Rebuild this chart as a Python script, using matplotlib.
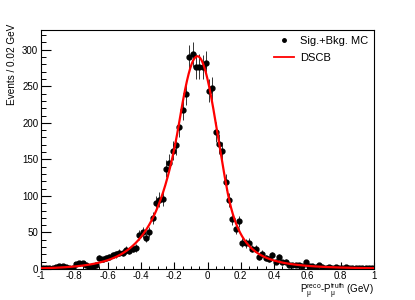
import numpy as np
import matplotlib
matplotlib.use("Agg")
import matplotlib.pyplot as plt
from matplotlib.ticker import MultipleLocator, FixedLocator
from matplotlib.lines import Line2D

plt.rcParams['font.family'] = ['Liberation Sans', 'DejaVu Sans']
plt.rcParams['mathtext.fontset'] = 'custom'
plt.rcParams['mathtext.rm'] = 'Liberation Sans'
plt.rcParams['mathtext.it'] = 'Liberation Sans'

bin_centers = np.round(np.arange(-0.99, 1.0, 0.02), 2)
counts = [1, 1, 2, 2, 3, 4, 4, 3, 2, 2,
          7, 8, 8, 5, 3, 3, 5, 15, 13, 15,
          17, 19, 20, 22, 22, 26, 25, 28, 29, 47,
          50, 43, 51, 70, 90, 95, 96, 137, 145, 162,
          169, 194, 218, 240, 290, 294, 277, 277, 276, 282,
          244, 247, 187, 171, 161, 119, 94, 68, 55, 65,
          36, 35, 36, 28, 28, 17, 21, 15, 13, 19,
          10, 16, 9, 10, 6, 5, 6, 5, 4, 9,
          4, 4, 3, 5, 3, 2, 3, 2, 3, 2,
          1, 3, 2, 2, 1, 2, 1, 1, 1, 1]
x_tick_values = [-1, -0.8, -0.6, -0.4, -0.2, 0, 0.2, 0.4, 0.6, 0.8, 1]
x_tick_labels = ["-1", "-0.8", "-0.6", "-0.4", "-0.2", "0", "0.2", "0.4", "0.6", "0.8", "1"]
y_tick_values = [0, 50, 100, 150, 200, 250, 300]

# DSCB fit parameters: norm, mean, sigma, alphaL, nL, alphaR, nR
dscb_params = [291.1, -0.0605, 0.1268, 0.8537, 49.63, 1.419, 3.348]

def dscb(xx, p):
    N, mu, s, aL, nL, aR, nR = p
    t = (xx - mu) / s
    out = np.exp(-0.5 * t**2)
    AL = (nL / aL) ** nL * np.exp(-0.5 * aL**2); BL = nL / aL - aL
    AR = (nR / aR) ** nR * np.exp(-0.5 * aR**2); BR = nR / aR - aR
    m = t < -aL
    out[m] = AL * (BL - t[m]) ** (-nL)
    m = t > aR
    out[m] = AR * (BR + t[m]) ** (-nR)
    return N * out

x = bin_centers
y = np.array(counts, float)

fig = plt.figure(figsize=(4.15, 3.0), dpi=100)
ax = fig.add_axes([41/415, 31/300, 333/415, 239/300])
xx = np.linspace(-1, 1, 1000)
ax.errorbar(x, y, yerr=np.sqrt(y), fmt='o', color='black', ms=3.5, elinewidth=0.7,
            ecolor='#333333', capsize=0, zorder=3)
ax.plot(xx, dscb(xx, dscb_params), color='red', lw=1.6, zorder=4)
ax.set_xlim(-1, 1)
ax.set_ylim(0, 327)

ax.xaxis.set_major_locator(FixedLocator(x_tick_values))
ax.set_xticklabels(x_tick_labels)
ax.xaxis.set_minor_locator(MultipleLocator(0.05))
ax.yaxis.set_major_locator(FixedLocator(y_tick_values))
ax.yaxis.set_minor_locator(MultipleLocator(10))
ax.tick_params(which='both', direction='in', top=False, right=False, labelsize=7, colors='black')
ax.tick_params(axis='x', which='major', length=5, width=0.8, pad=1.5)
ax.tick_params(axis='x', which='minor', length=2.5, width=0.7)
ax.tick_params(axis='y', which='major', length=7, width=0.8, pad=2)
ax.tick_params(axis='y', which='minor', length=3.5, width=0.7)
for sp in ax.spines.values():
    sp.set_linewidth(0.8)
    sp.set_color('black')

fig.text(374/415, 6/300, r"P$_{\mu}^{\rm reco}$-P$_{\mu}^{\rm truth}$ (GeV)", fontsize=7,
         ha='right', va='baseline')
fig.text(12/415, 1 - 24/300, "Events / 0.02 GeV", fontsize=7.2, rotation=90,
         ha='center', va='top')

handles = [Line2D([], [], ls='none', marker='o', color='black', ms=2.5),
           Line2D([], [], color='red', lw=1.3)]
ax.legend(handles, ["Sig.+Bkg. MC", "DSCB"], loc='upper right', frameon=False,
          fontsize=8, handlelength=1.8, borderaxespad=0.15, labelspacing=0.6,
          bbox_to_anchor=(1.0, 1.0), handletextpad=0.5)

fig.savefig("out.png", dpi=100)
